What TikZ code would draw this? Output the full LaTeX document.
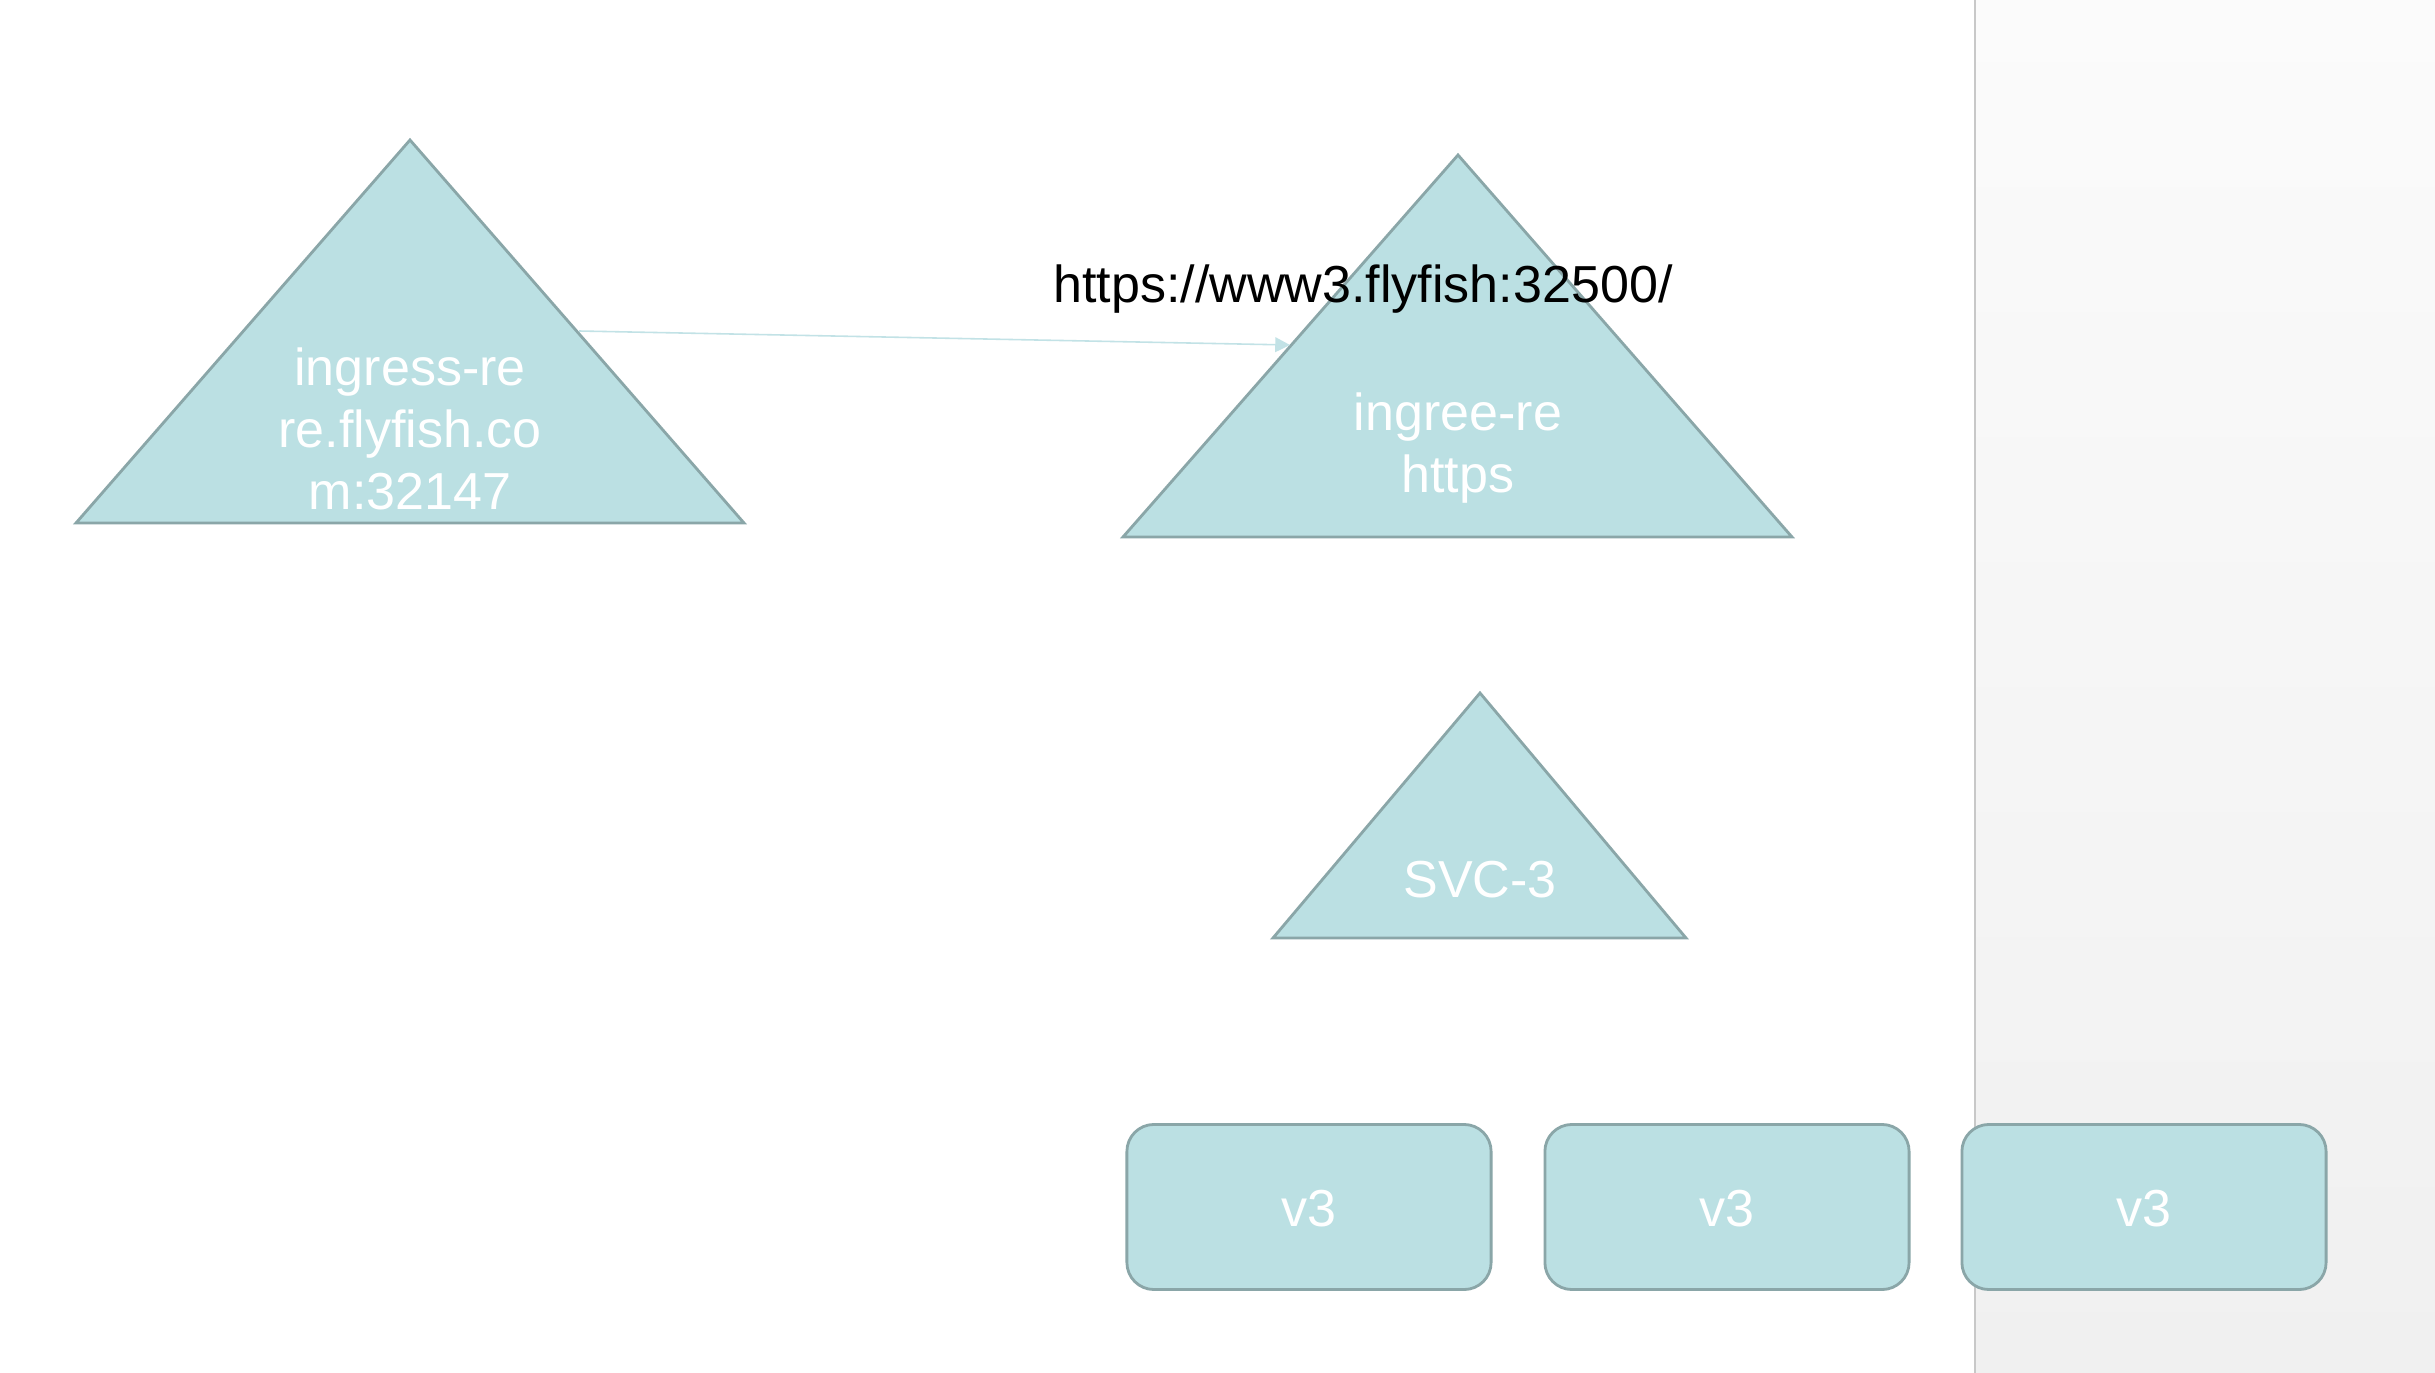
\documentclass[tikz,border=0pt]{standalone}
\usepackage{fontspec}
\setmainfont{Liberation Sans}
\usetikzlibrary{arrows.meta}
\definecolor{shapefill}{HTML}{BBE0E3}
\definecolor{shapeline}{HTML}{8AA6A8}
\definecolor{arrowcol}{HTML}{C2E2E6}
\definecolor{paneltop}{HTML}{FBFBFB}
\definecolor{panelbot}{HTML}{F0F0F0}
\definecolor{panelline}{HTML}{C8C8C8}
\newcommand{\lowtext}[1]{\raisebox{-5.6pt}[0pt][0pt]{#1}}
\tikzset{
  tri/.style={fill=shapefill, draw=shapeline, line width=0.8pt, line join=miter},
  vbox/.style={rectangle, fill=shapefill, draw=shapeline, line width=0.8pt, rounded corners=0.27cm,
    minimum width=3.64cm, minimum height=1.65cm, inner sep=0pt, text=white,
    font=\fontsize{14.8}{17.6}\selectfont},
  lbl/.style={text=white, align=center, inner sep=0pt, font=\fontsize{14.8}{17.6}\selectfont},
  link/.style={draw=arrowcol, line width=0.45pt, -{Triangle[length=4.2pt,width=4.2pt]}},
}
\begin{document}
\begin{tikzpicture}[x=0.01cm,y=-0.01cm]
\useasboundingbox (0,0) rectangle (2435,1373);
\fill[white] (0,0) rectangle (2435,1373);
\shade[top color=paneltop, bottom color=panelbot] (1975,0) rectangle (2435,1373);
\draw[panelline, line width=0.4pt] (1975,0) -- (1975,1373);

% triangles
\coordinate (t1a) at (410,140);
\coordinate (t1l) at (76,523);
\coordinate (t1r) at (744,523);
\filldraw[tri] (t1a) -- (t1r) -- (t1l) -- cycle;
\node[lbl] (t1) at (410,429) {ingress-re\\re.flyfish.co\\m:32147};

\coordinate (t2a) at (1458,155);
\coordinate (t2l) at (1123,537);
\coordinate (t2r) at (1792,537);
\filldraw[tri] (t2a) -- (t2r) -- (t2l) -- cycle;
\node[lbl] (t2) at (1458,448) {ingree-re\\https};

\coordinate (t3a) at (1480,693);
\coordinate (t3l) at (1273,938);
\coordinate (t3r) at (1686,938);
\filldraw[tri] (t3a) -- (t3r) -- (t3l) -- cycle;
\node[lbl] (t3) at (1480,880) {SVC-3};

% boxes
\node[vbox] (b1) at (1309,1207) {\lowtext{v3}};
\node[vbox] (b2) at (1727,1207) {\lowtext{v3}};
\node[vbox] (b3) at (2144,1207) {\lowtext{v3}};

% arrow
\coordinate (from) at (579,331);
\coordinate (to) at (1290,345);
\draw[link] (from) -- (to);

\node[inner sep=0pt, font=\fontsize{14.8}{17.6}\selectfont] (url) at (1363,289) {https://www3.flyfish:32500/};
\end{tikzpicture}
\end{document}
